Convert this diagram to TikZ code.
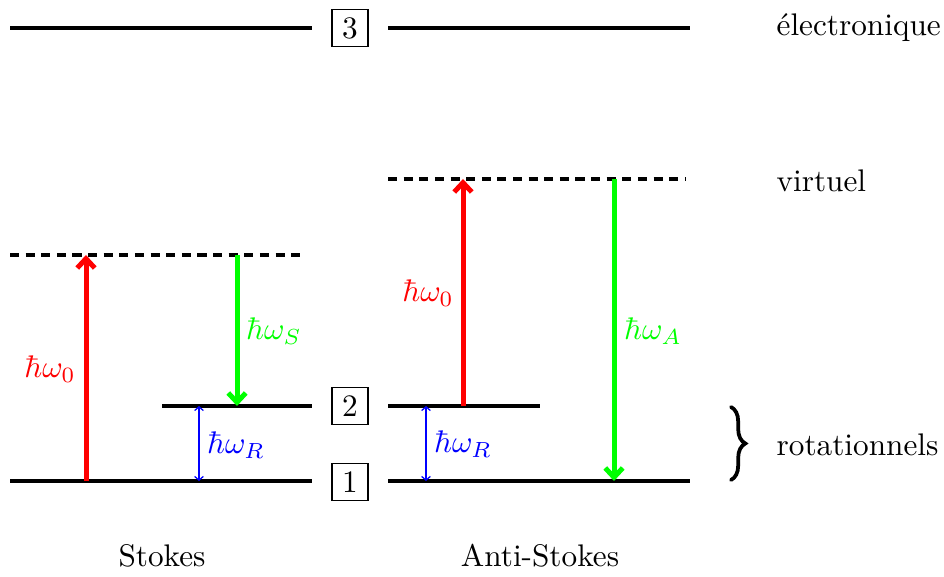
\documentclass[tikz,border=0pt]{standalone}
\usetikzlibrary{arrows.meta,decorations.pathreplacing}
\tikzset{
  level/.style={line width=1.3pt},
  virt/.style={line width=1.3pt, dash pattern=on 2.9pt off 2.1pt},
  photon/.style={line width=1.6pt, -{Straight Barb[length=3pt,width=5.6pt]}},
  rot/.style={blue, line width=0.4pt, {Straight Barb[length=1.2pt,width=2.8pt]}-{Straight Barb[length=1.2pt,width=2.8pt]}},
  numbox/.style={draw, line width=0.4pt, minimum width=11.5pt, minimum height=11.8pt, inner sep=0pt},
  mlbl/.style={inner sep=0pt},
  bracestyle/.style={line width=1.2pt, line cap=round, decorate, decoration={brace, amplitude=4.6pt}},
}
\begin{document}
\begin{tikzpicture}[x=0.32pt, y=-0.32pt]
\useasboundingbox (0,0) rectangle (944,577);
% level boxes
\node[numbox] (b3) at (350,28) {3};
\node[numbox] (b2) at (350,406) {2};
\node[numbox] (b1) at (350,482) {1};
% coordinates
\coordinate (e3La) at (10,28);  \coordinate (e3Lb) at (312,28);
\coordinate (e3Ra) at (388,28); \coordinate (e3Rb) at (690,28);
\coordinate (vLa) at (10,255);  \coordinate (vLb) at (305,255);
\coordinate (vRa) at (388,179); \coordinate (vRb) at (686,179);
\coordinate (e2La) at (162,406); \coordinate (e2Lb) at (312,406);
\coordinate (e2Ra) at (388,406); \coordinate (e2Rb) at (540,406);
\coordinate (e1La) at (10,481); \coordinate (e1Lb) at (312,481);
\coordinate (e1Ra) at (388,481); \coordinate (e1Rb) at (690,481);
% levels
\draw[level] (e3La) -- (e3Lb);
\draw[level] (e3Ra) -- (e3Rb);
\draw[virt] (vLa) -- (vLb);
\draw[virt] (vRa) -- (vRb);
\draw[level] (e2La) -- (e2Lb);
\draw[level] (e2Ra) -- (e2Rb);
\draw[level] (e1La) -- (e1Lb);
\draw[level] (e1Ra) -- (e1Rb);
% Stokes transitions
\coordinate (s0a) at (86,481); \coordinate (s0b) at (86,255);
\coordinate (sSa) at (237,255); \coordinate (sSb) at (237,406);
\coordinate (sRa) at (199,406); \coordinate (sRb) at (199,481);
\draw[photon, red] (s0a) -- (s0b);
\draw[photon, green] (sSa) -- (sSb);
\draw[rot] (sRa) -- (sRb);
\node[mlbl, red] (l0s) at (50,369) {$\hbar\omega_0$};
\node[mlbl, green] (lS) at (274,331) {$\hbar\omega_S$};
\node[mlbl, blue] (lRs) at (236,445) {$\hbar\omega_R$};
% Anti-Stokes transitions
\coordinate (a0a) at (463,406); \coordinate (a0b) at (463,179);
\coordinate (aAa) at (614,179); \coordinate (aAb) at (614,481);
\coordinate (aRa) at (426,406); \coordinate (aRb) at (426,481);
\draw[photon, red] (a0a) -- (a0b);
\draw[photon, green] (aAa) -- (aAb);
\draw[rot] (aRa) -- (aRb);
\node[mlbl, red] (l0a) at (428,293) {$\hbar\omega_0$};
\node[mlbl, green] (lA) at (653,331) {$\hbar\omega_A$};
\node[mlbl, blue] (lRa) at (463,444) {$\hbar\omega_R$};
% right labels
\node[inner sep=0pt, anchor=west] (tel) at (776,28) {électronique};
\node[inner sep=0pt, anchor=west] (tvi) at (776,181) {virtuel};
\node[inner sep=0pt, anchor=west] (tro) at (776,445) {rotationnels};
\coordinate (brt) at (731,407); \coordinate (brb) at (731,480);
\draw[bracestyle] (brt) -- (brb);
% bottom labels
\node[inner sep=0pt] (tst) at (162,556) {Stokes};
\node[inner sep=0pt] (tas) at (540,556) {Anti-Stokes};
\end{tikzpicture}
\end{document}
